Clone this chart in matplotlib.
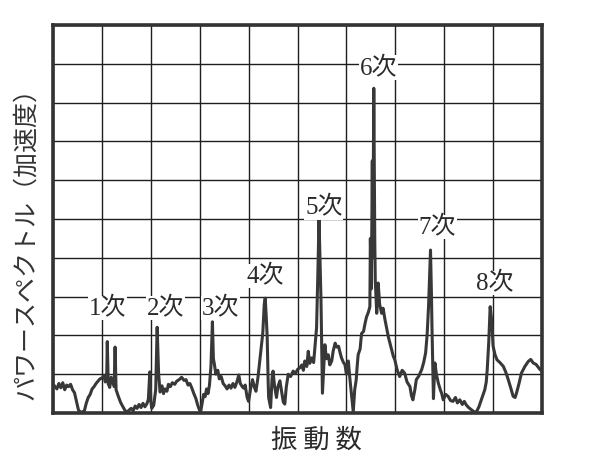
import matplotlib
matplotlib.use('Agg')
import matplotlib.pyplot as plt

plt.rcParams['font.family'] = ['Noto Sans CJK JP', 'DejaVu Sans']

# 振動数（目盛 1マス = 10）
freq = [0.3, 0.8, 1.2, 1.6, 2.0, 2.4, 2.8, 3.2, 3.6, 4.0, 4.4, 4.8, 5.2, 5.6, 6.0, 6.4, 6.8, 7.2, 7.6, 8.0,
        8.4, 8.8, 9.2, 9.6, 10.0, 10.4, 10.7, 11.0, 11.1, 11.3, 11.6, 11.9, 12.2, 12.5, 12.7, 12.9, 13.3, 13.8, 14.3, 14.8,
        15.2, 15.6, 16.0, 16.4, 16.8, 17.2, 17.6, 18.0, 18.4, 18.8, 19.2, 19.5, 19.8, 20.0, 20.2, 20.6, 21.0, 21.3, 21.6, 21.9,
        22.3, 22.6, 22.9, 23.3, 23.6, 24.0, 24.4, 24.9, 25.3, 25.8, 26.3, 26.8, 27.2, 27.6, 28.0, 28.4, 28.8, 29.2, 29.6, 30.0,
        30.2, 30.5, 30.8, 31.1, 31.4, 31.7, 32.0, 32.3, 32.6, 32.8, 33.0, 33.3, 33.7, 34.0, 34.4, 34.8, 35.2, 35.6, 36.0, 36.4,
        36.8, 37.2, 37.6, 38.0, 38.3, 38.7, 39.0, 39.3, 39.7, 40.0, 40.4, 40.8, 41.2, 41.5, 41.9, 42.3, 42.6, 42.9, 43.2, 43.4,
        43.6, 43.8, 44.0, 44.1, 44.5, 44.8, 45.0, 45.3, 45.7, 46.0, 46.4, 46.8, 47.1, 47.4, 47.7, 48.1, 48.6, 49.1, 49.6, 50.0,
        50.5, 50.9, 51.2, 51.5, 51.9, 52.2, 52.5, 52.9, 53.3, 53.6, 53.9, 54.2, 54.4, 54.6, 54.8, 55.0, 55.1, 55.3, 55.6, 55.9,
        56.3, 56.6, 57.0, 57.3, 57.7, 58.0, 58.4, 58.7, 59.0, 59.4, 59.7, 60.0, 60.4, 60.7, 61.1, 61.4, 61.7, 62.0, 62.2, 62.4,
        62.8, 63.1, 63.5, 63.8, 64.1, 64.5, 64.8, 64.9, 65.1, 65.3, 65.4, 65.6, 65.8, 65.9, 66.2, 66.5, 66.8, 67.2, 67.5, 67.9,
        68.3, 68.6, 68.9, 69.3, 69.6, 69.9, 70.4, 70.9, 71.4, 71.9, 72.4, 73.0, 73.3, 73.6, 74.0, 74.3, 74.8, 75.4, 75.8, 76.2,
        76.5, 76.8, 77.0, 77.2, 77.4, 77.5, 77.7, 77.8, 78.1, 78.4, 78.8, 79.2, 79.5, 79.8, 80.3, 80.8, 81.3, 81.8, 82.3, 82.7,
        83.2, 83.7, 84.1, 84.5, 85.0, 85.6, 86.1, 86.6, 87.1, 87.6, 88.0, 88.3, 88.6, 88.8, 89.1, 89.4, 89.7, 90.0, 90.4, 90.8,
        91.4, 92.1, 92.6, 93.1, 93.6, 94.1, 94.5, 94.8, 95.3, 95.8, 96.5, 97.2, 97.7, 98.2, 98.8, 99.6, 100.0]

# パワースペクトル（加速度）
power = [7.0, 6.2, 7.6, 6.5, 7.8, 6.0, 7.2, 6.8, 7.4, 6.0, 5.2, 3.0, 0.8, 0.2, 0.3, 0.5, 2.5, 4.0, 4.8, 6.2,
         6.8, 7.6, 8.2, 8.8, 9.0, 9.6, 8.0, 10.5, 18.4, 7.5, 6.6, 9.2, 8.0, 6.8, 17.0, 6.0, 4.5, 2.8, 1.6, 0.5,
         0.3, 0.8, 1.2, 0.6, 1.8, 1.2, 2.2, 1.4, 2.5, 1.6, 2.4, 3.5, 10.6, 3.0, 1.2, 2.0, 6.0, 22.1, 10.0, 5.4,
         7.0, 5.0, 6.2, 5.6, 7.4, 6.8, 7.8, 7.4, 8.2, 8.6, 9.2, 8.4, 8.6, 7.2, 7.6, 6.4, 5.0, 3.8, 2.0, 0.6,
         0.3, 2.5, 4.8, 4.2, 6.2, 5.0, 7.2, 12.0, 23.5, 14.0, 12.6, 10.0, 11.0, 8.8, 9.4, 7.6, 7.0, 6.2, 7.2, 6.4,
         7.6, 6.6, 8.0, 9.8, 7.6, 6.8, 6.4, 7.2, 4.0, 3.0, 6.2, 8.6, 6.6, 5.6, 9.0, 13.7, 17.0, 20.6, 28.0, 29.6,
         25.0, 19.6, 8.0, 4.0, 1.4, 9.0, 10.8, 7.0, 4.0, 6.8, 8.3, 5.2, 2.8, 2.3, 6.6, 10.0, 9.4, 10.8, 10.2, 11.2,
         11.7, 12.4, 11.0, 13.4, 12.0, 15.9, 12.8, 14.2, 13.0, 17.6, 22.0, 38.0, 50.2, 40.0, 29.2, 12.0, 5.1, 10.0, 17.6, 14.0,
         15.0, 12.4, 13.4, 16.0, 18.0, 17.0, 17.2, 15.6, 14.2, 13.0, 12.5, 10.0, 13.4, 9.0, 4.0, 0.3, 6.0, 8.5, 12.0, 15.0,
         16.5, 20.5, 21.0, 23.0, 24.7, 26.0, 27.4, 45.0, 32.0, 65.0, 40.0, 83.7, 45.0, 34.3, 25.7, 33.5, 28.0, 25.7, 27.0, 24.0,
         21.5, 19.5, 18.0, 16.0, 14.6, 13.7, 11.0, 9.4, 11.0, 10.3, 8.0, 6.8, 4.5, 3.4, 6.0, 8.6, 9.5, 11.2, 13.0, 15.5,
         20.0, 27.5, 35.0, 42.0, 30.0, 22.2, 10.0, 3.7, 12.9, 10.0, 7.7, 6.0, 5.0, 3.4, 4.8, 4.3, 3.2, 3.0, 4.0, 2.6,
         3.4, 2.2, 3.0, 2.1, 1.4, 0.8, 0.3, 0.3, 1.6, 3.4, 4.8, 6.0, 8.0, 11.2, 18.0, 27.4, 24.0, 17.2, 15.0, 13.7,
         13.0, 12.0, 10.5, 8.6, 6.5, 4.3, 4.0, 5.2, 7.6, 10.3, 12.0, 13.3, 13.8, 12.9, 12.5, 11.2, 10.8]

orders = ['1次', '2次', '3次', '4次', '5次', '6次', '7次', '8次']
order_x = [11.2, 23.1, 34.2, 43.5, 55.4, 66.5, 78.6, 90.4]
order_y = [27.0, 27.0, 27.0, 35.3, 53.0, 89.0, 48.0, 33.5]

fig = plt.figure(figsize=(6, 4.74), dpi=100)
ax = fig.add_axes([53 / 600, 61 / 474, 489 / 600, 388 / 474])

ax.plot(freq, power, color='#383838', lw=2.2, zorder=3)
ax.set_xlim(0, 100)
ax.set_ylim(0, 100)
ax.set_xticks(range(0, 101, 10))
ax.set_yticks(range(0, 101, 10))
ax.tick_params(length=0, labelbottom=False, labelleft=False)
ax.grid(color='#1e1e1e', lw=1.0)
ax.set_axisbelow(True)
for s in ax.spines.values():
    s.set_linewidth(2.6)
    s.set_color('#333333')

for t, x, y in zip(orders, order_x, order_y):
    ax.text(x, y, t, ha='center', va='center', fontsize=18, color='#2a2a2a',
            family=['Liberation Serif', 'Noto Sans CJK JP'],
            bbox=dict(facecolor='white', edgecolor='none', pad=0.5), zorder=4)

fig.text(26 / 600, 1 - 238 / 474, 'パワースペクトル（加速度）', rotation=90,
         ha='center', va='center', fontsize=18, color='#333333')
fig.text(316 / 600, 1 - 440 / 474, '振 動 数', ha='center', va='center',
         fontsize=19, color='#2a2a2a')

fig.savefig('out.png', dpi=100)
